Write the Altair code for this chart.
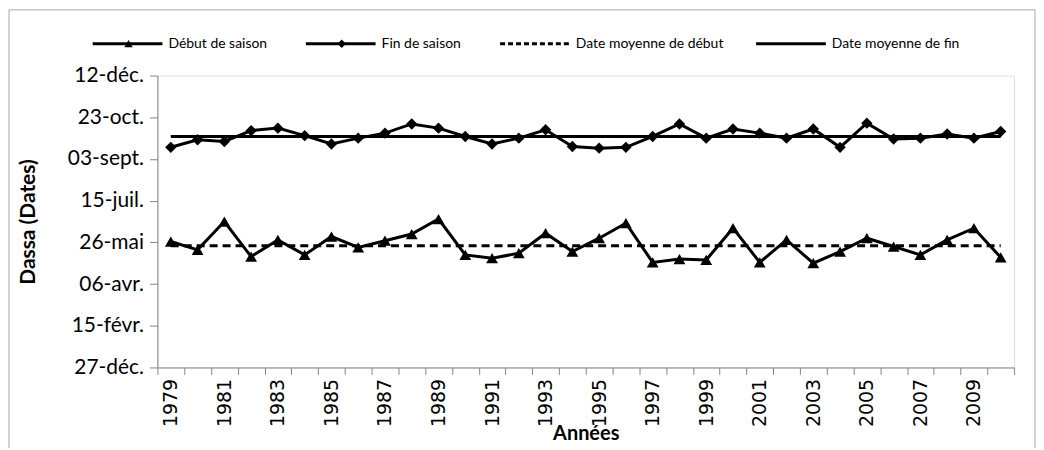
import altair as alt
import pandas as pd

# ---- data ----
years = list(range(1979, 2011))
debut = [151, 141, 175, 133, 153, 135, 157, 144, 152, 160, 178,
         135, 131, 137, 161, 139, 155, 173, 126, 130, 129, 167,
         126, 153, 125, 139, 155, 145, 135, 153, 167, 132]
fin = [264, 273, 271, 284, 287, 278, 268, 275, 281, 292, 287,
       277, 268, 275, 285, 265, 263, 264, 277, 292, 275, 286,
       281, 275, 286, 264, 293, 274, 275, 280, 275, 283]
mean_debut = 146
mean_fin = 277

tick_days = [0, 50, 100, 150, 200, 250, 300, 350]
tick_labels = ["27-déc.", "15-févr.", "06-avr.", "26-mai", "15-juil.",
               "03-sept.", "23-oct.", "12-déc."]

series_names = ["Début de saison", "Fin de saison",
                "Date moyenne de début", "Date moyenne de fin"]

df = pd.DataFrame({
    "year": years * 4,
    "value": debut + fin + [mean_debut] * len(years) + [mean_fin] * len(years),
    "series": [series_names[0]] * len(years) + [series_names[1]] * len(years)
              + [series_names[2]] * len(years) + [series_names[3]] * len(years),
})

FONT = "Lato"
GRAY = "#868686"

label_arr = "[" + ",".join("'" + s + "'" for s in tick_labels) + "]"

x_enc = alt.X(
    "year:O",
    scale=alt.Scale(type="band", paddingInner=0, paddingOuter=0),
    axis=alt.Axis(
        title="Années", titleFont=FONT, titleFontSize=20, titleFontWeight="bold",
        titleColor="black", titleY=56, titleBaseline="top",
        labelExpr="datum.value % 2 == 1 ? datum.label : ''",
        labelAngle=270, labelFont="DejaVu Sans", labelFontSize=19,
        labelColor="black", labelPadding=4,
        tickBand="extent", tickSize=7, tickColor=GRAY, domainColor=GRAY,
        labelOverlap=False,
    ),
)
y_enc = alt.Y(
    "value:Q",
    scale=alt.Scale(domain=[0, 350], nice=False, zero=False),
    axis=alt.Axis(
        title="Dassa (Dates)", titleFont=FONT, titleFontSize=21,
        titleFontWeight="bold", titleColor="black", titleX=-129,
        titleBaseline="middle",
        values=tick_days,
        labelExpr=label_arr + "[round(datum.value / 50)]",
        labelFont=FONT, labelFontSize=21, labelColor="black", labelPadding=6,
        grid=False, tickSize=8, tickColor=GRAY, domainColor=GRAY,
    ),
)

base = alt.Chart(df)

def series_line(name, dash=None):
    kw = dict(color="black", strokeWidth=3)
    if dash:
        kw["strokeDash"] = dash
    return base.transform_filter(alt.datum.series == name).mark_line(**kw).encode(
        x=x_enc, y=y_enc)

def series_points(name, shape, size):
    return base.transform_filter(alt.datum.series == name).mark_point(
        shape=shape, filled=True, color="black", size=size, opacity=1
    ).encode(x=x_enc, y=y_enc)

layers = [
    series_line(series_names[2], dash=[8, 5]),
    series_line(series_names[3]),
    series_line(series_names[0]),
    series_points(series_names[0], "triangle-up", 140),
    series_line(series_names[1]),
    series_points(series_names[1], "diamond", 130),
]

# ---- custom legend (Excel style: line with marker) ----
one = alt.Data(values=[{"k": 1}])
leg_y = -32
leg_x0 = [-65, 149, 344, 601]
leg_marks = [("triangle-up", None), ("diamond", None), (None, [5, 3]), (None, None)]
for x0, name, (shape, dash) in zip(leg_x0, series_names, leg_marks):
    kw = dict(color="black", strokeWidth=3)
    if dash:
        kw["strokeDash"] = dash
    layers.append(alt.Chart(one).mark_rule(**kw).encode(
        x=alt.value(x0), x2=alt.value(x0 + 70), y=alt.value(leg_y)))
    if shape:
        layers.append(alt.Chart(one).mark_point(
            shape=shape, filled=True, color="black", size=70, opacity=1).encode(
            x=alt.value(x0 + 36), y=alt.value(leg_y)))
    layers.append(alt.Chart(one).mark_text(
        text=name, align="left", baseline="middle", font=FONT, fontSize=14,
        color="black").encode(x=alt.value(x0 + 76), y=alt.value(leg_y)))

# ---- outer chart-area frame ----
layers.append(alt.Chart(one).mark_rect(
    fillOpacity=0, stroke="#a6a6a6", strokeWidth=1).encode(
    x=alt.value(-149), x2=alt.value(881), y=alt.value(-66), y2=alt.value(420)))

chart = alt.layer(*layers).properties(
    width=860, height=293,
    autosize=alt.AutoSizeParams(type="none"),
    padding={"left": 150, "top": 67, "right": 22, "bottom": 80},
).configure_view(stroke=None).configure(background="white")

chart.save("out.html", embed_options={"renderer": "svg", "actions": False})
